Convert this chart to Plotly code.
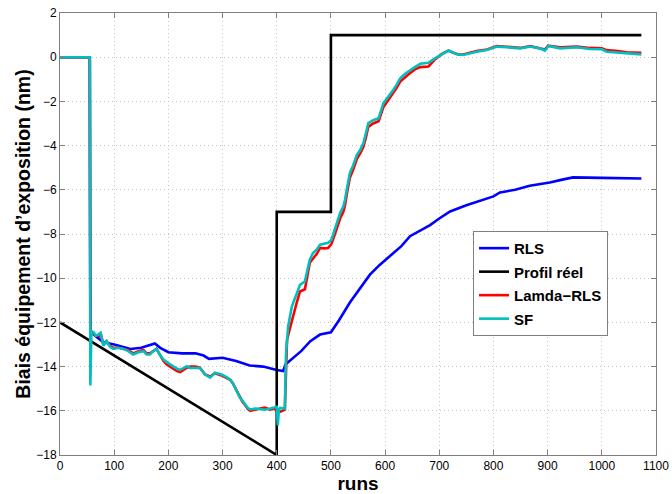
import plotly.graph_objects as go

# ---- data ----
profil_x = [0, 400, 400, 500, 500, 1073]
profil_y = [-12, -18, -7, -7, 1, 1]

rls_x = [0, 55, 56, 60, 70, 80, 100, 115, 130, 150, 165, 175, 185, 200, 225, 250, 265, 275, 300,
         325, 350, 375, 400, 412, 416, 425, 445, 462, 480, 500, 515, 535, 555, 572, 590, 609, 630,
         646, 665, 683, 700, 720, 750, 775, 800, 812, 840, 867, 904, 925, 947, 1000, 1073]
rls_y = [0, 0, -12.4, -12.5, -12.7, -12.9, -13.0, -13.1, -13.2, -13.15, -13.05, -12.95, -13.15, -13.35,
         -13.4, -13.4, -13.5, -13.65, -13.6, -13.75, -13.95, -14.0, -14.15, -14.2, -13.9, -13.7, -13.3,
         -12.85, -12.55, -12.45, -11.9, -11.1, -10.4, -9.84, -9.4, -9.0, -8.55, -8.1, -7.85, -7.6, -7.3,
         -6.98, -6.7, -6.5, -6.3, -6.12, -6.0, -5.82, -5.67, -5.55, -5.44, -5.46, -5.49]

lamda_x = [0, 55, 56, 62, 66, 71, 75, 80, 86, 92, 98, 108, 117, 126, 135, 145, 154, 160, 166, 172, 178,
           184, 191, 197, 203, 210, 216, 222, 228, 234, 240, 250, 258, 263, 268, 277, 286, 298, 306, 314,
           319, 323, 328, 332, 337, 342, 346, 351, 360, 369, 378, 388, 395, 400, 406, 415, 419, 423, 428,
           437, 443, 452, 461, 467, 474, 480, 488, 495, 501, 506, 511, 517, 523, 526, 530, 535, 541, 548,
           554, 560, 565, 569, 578, 588, 597, 606, 615, 621, 628, 637, 646, 655, 665, 680, 692, 705, 717,
           726, 735, 744, 756, 769, 788, 806, 825, 849, 868, 885, 895, 901, 923, 954, 978, 1000, 1009,
           1030, 1046, 1073]
lamda_y = [0, 0, -12.4, -12.5, -12.6, -12.6, -12.5, -13.0, -12.85, -13.05, -13.15, -13.15, -13.2, -13.25,
           -13.4, -13.3, -13.25, -13.4, -13.4, -13.3, -13.2, -13.45, -13.75, -13.9, -14.0, -14.1, -14.2,
           -14.25, -14.15, -14.05, -14.0, -14.0, -14.05, -14.2, -14.36, -14.45, -14.3, -14.4, -14.5, -14.6,
           -14.75, -14.95, -15.2, -15.4, -15.6, -15.75, -15.9, -16.0, -15.95, -15.9, -15.85, -15.95, -15.9,
           -16.0, -16.05, -15.95, -12.8, -12.4, -11.9, -11.1, -10.6, -10.5, -9.3, -9.1, -8.9, -8.63, -8.65,
           -8.63, -8.45, -8.1, -7.75, -7.3, -7.0, -6.7, -6.1, -5.45, -5.1, -4.6, -4.35, -4.05, -3.6, -3.15,
           -3.0, -2.9, -2.25, -1.95, -1.65, -1.4, -1.1, -0.9, -0.72, -0.55, -0.45, -0.42, -0.1, 0.15, 0.3,
           0.2, 0.12, 0.12, 0.2, 0.28, 0.35, 0.5, 0.47, 0.42, 0.5, 0.42, 0.35, 0.52, 0.45, 0.48, 0.42, 0.4,
           0.32, 0.28, 0.22, 0.2]

sf_x = [0, 55, 56, 58, 62, 66, 71, 75, 80, 86, 92, 98, 108, 117, 126, 135, 145, 154, 160, 166, 172, 178,
        184, 191, 197, 203, 210, 216, 222, 228, 234, 240, 250, 258, 263, 268, 277, 286, 298, 306, 314,
        319, 323, 328, 332, 337, 342, 346, 351, 360, 369, 378, 388, 395, 400, 402, 404, 406, 415, 417,
        421, 428, 437, 443, 452, 461, 467, 474, 480, 488, 495, 501, 506, 511, 517, 523, 526, 530, 535,
        541, 548, 554, 560, 565, 569, 578, 588, 597, 606, 615, 621, 628, 637, 646, 655, 665, 680, 692,
        705, 717, 726, 735, 744, 756, 769, 788, 806, 825, 849, 868, 885, 895, 901, 923, 954, 978, 1000,
        1009, 1030, 1046, 1073]
sf_y = [0, 0, -14.85, -12.4, -12.45, -12.6, -12.55, -12.47, -13.05, -12.85, -13.1, -13.2, -13.15, -13.2,
        -13.3, -13.45, -13.35, -13.3, -13.45, -13.45, -13.3, -13.2, -13.45, -13.68, -13.8, -13.9, -14.0,
        -14.1, -14.15, -14.05, -13.98, -14.06, -14.05, -14.06, -14.2, -14.36, -14.5, -14.28, -14.36,
        -14.45, -14.58, -14.75, -14.96, -15.2, -15.4, -15.55, -15.7, -15.85, -15.94, -15.9, -15.92,
        -15.95, -15.9, -15.85, -15.82, -16.66, -15.95, -15.87, -15.9, -13.5, -12.18, -11.27, -10.74,
        -10.3, -10.14, -9.16, -8.86, -8.7, -8.48, -8.45, -8.4, -8.26, -7.9, -7.5, -7.05, -6.75, -6.45,
        -5.9, -5.24, -4.9, -4.42, -4.2, -3.89, -3.4, -2.98, -2.85, -2.76, -2.08, -1.8, -1.48, -1.25,
        -0.95, -0.75, -0.58, -0.45, -0.3, -0.25, -0.05, 0.15, 0.3, 0.2, 0.12, 0.1, 0.18, 0.25, 0.33,
        0.48, 0.45, 0.4, 0.48, 0.4, 0.3, 0.51, 0.4, 0.45, 0.37, 0.36, 0.25, 0.2, 0.18, 0.13]

series = [
    ("RLS", rls_x, rls_y, "#0000FF"),
    ("Profil réel", profil_x, profil_y, "#000000"),
    ("Lamda−RLS", lamda_x, lamda_y, "#FF0000"),
    ("SF", sf_x, sf_y, "#00BFBF"),
]

fig = go.Figure()
for name, xs, ys, col in series:
    fig.add_trace(go.Scatter(x=xs, y=ys, mode="lines", name=name, legendgroup=name,
                             line=dict(color=col, width=2.6)))

FONT = "Liberation Sans, Arial, sans-serif"
axis_common = dict(
    showline=True, linecolor="#7f7f7f", linewidth=1, mirror="allticks",
    ticks="inside", ticklen=5, tickcolor="#7f7f7f",
    showgrid=True, gridcolor="#c4c4c4", griddash="1px,3px", gridwidth=1,
    zeroline=False, automargin=False, ticklabeloverflow="allow",
    tickfont=dict(family=FONT, size=12, color="#000"),
)

fig.update_layout(
    width=672, height=494,
    margin=dict(l=60, r=16, t=13, b=39),
    paper_bgcolor="white", plot_bgcolor="white",
    xaxis=dict(range=[0, 1100], dtick=100, tick0=0,
               title=dict(text="runs", standoff=2,
                          font=dict(family=FONT, size=19, color="#000", weight="bold")),
               **axis_common),
    yaxis=dict(range=[-18, 2], dtick=2, tick0=0,
               title=dict(text="Biais équipement d’exposition (nm)", standoff=0,
                          font=dict(family=FONT, size=19.5, color="#000", weight="bold")),
               **axis_common),
    legend=dict(x=0.693, y=0.507, xanchor="left", yanchor="top",
                bgcolor="white", bordercolor="#7f7f7f", borderwidth=1,
                traceorder="grouped", tracegroupgap=1, itemwidth=30,
                font=dict(family=FONT, size=15, color="#000", weight="bold")),
    showlegend=True,
)

# remove the default 8px body margin so the 672x494 figure fills the window exactly
fig.write_html("out.html", config={"displayModeBar": False},
               post_script="document.body.style.margin='0';")
